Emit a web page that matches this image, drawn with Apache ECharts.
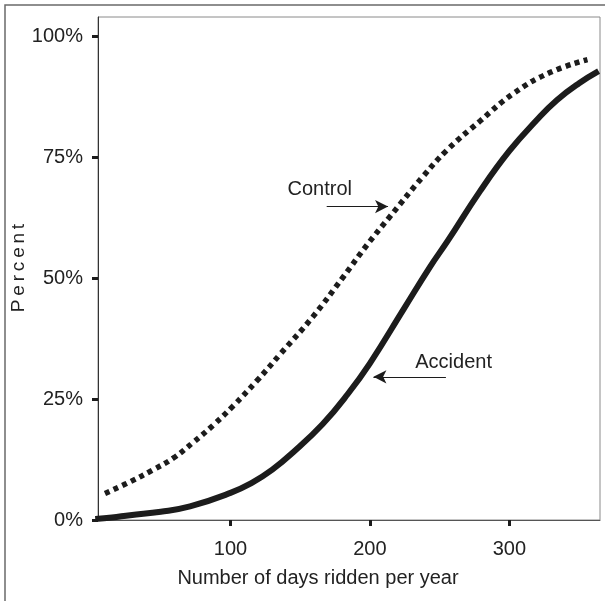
<!DOCTYPE html>
<html>
<head>
<meta charset="utf-8">
<script src="https://cdn.jsdelivr.net/npm/echarts@6/dist/echarts.min.js"></script>
<style>
html,body{margin:0;padding:0;background:#fff;}
#chart{width:605px;height:601px;}
</style>
</head>
<body>
<div id="chart"></div>
<script>
// Cumulative percent by number of days ridden per year
const controlDays = [10, 28, 44, 59, 73, 88, 102, 119, 136, 159, 181, 198, 214, 238, 255, 279, 303, 329, 356];
const controlPct  = [5.5, 7.9, 10.3, 12.8, 16.0, 19.7, 23.6, 28.8, 34.4, 42.0, 50.3, 56.9, 62.6, 71.0, 76.4, 82.5, 88.2, 92.5, 95.2];
const accidentDays = [3, 15, 28, 50, 71, 100, 115, 130, 145, 166, 184, 200, 224, 243, 256, 279, 300, 320, 334, 350, 364];
const accidentPct  = [0.2, 0.5, 1.0, 1.7, 2.8, 5.6, 7.6, 10.4, 14.0, 19.8, 26.0, 32.4, 43.5, 52.3, 57.8, 68.0, 76.3, 82.8, 86.8, 90.3, 92.8];
const xTicks = [100, 200, 300];
const yTicks = [0, 25, 50, 75, 100];
const xLabelName = 'Number of days ridden per year';
const yLabelName = 'P\u2009e\u2009r\u2009c\u2009e\u2009n\u2009t';
const annotations = [
  {text: 'Control', textAt: [164, 68.4], from: [169, 64.8], to: [213, 64.8]},
  {text: 'Accident', textAt: [260, 32.6], from: [254.5, 29.6], to: [202.5, 29.6]}
];

const zip = (a, b) => a.map((v, i) => [v, b[i]]);
const font = 'Liberation Sans, Arial, sans-serif';
const ink = '#1c1c1c';
const fs = 20;

const chart = echarts.init(document.getElementById('chart'), null, {renderer: 'canvas'});
const arrowLine = (a) => ({
  silent: true, animation: false, symbol: ['none', 'arrow'], symbolSize: [10, 13],
  label: {show: false},
  lineStyle: {color: ink, width: 1.2, type: 'solid'},
  data: [[{coord: a.from}, {coord: a.to}]]
});
const textPoint = (a) => ({
  silent: true, symbol: 'rect', symbolSize: 0,
  label: {show: true, position: 'inside', formatter: '{b}', fontSize: fs, color: '#222', fontFamily: font},
  data: [{name: a.text, coord: a.textAt}]
});
const option = {
  animation: false,
  backgroundColor: '#fff',
  grid: {left: 98, top: 17, right: 5, bottom: 81, show: true, borderColor: '#8a8a8a', borderWidth: 1},
  xAxis: {
    type: 'value', min: 5, max: 365,
    axisLine: {show: true, lineStyle: {color: '#555', width: 1}},
    axisTick: {show: true, customValues: xTicks, length: 6, inside: false, lineStyle: {color: ink, width: 3}},
    axisLabel: {customValues: xTicks, margin: 19, fontSize: fs, color: '#222', fontFamily: font},
    splitLine: {show: false}
  },
  yAxis: {
    type: 'value', min: 0, max: 104,
    axisLine: {show: true, lineStyle: {color: '#333', width: 1}},
    axisTick: {show: true, customValues: yTicks, length: 6, lineStyle: {color: ink, width: 3}},
    axisLabel: {customValues: yTicks, margin: 15, fontSize: fs, color: '#222', fontFamily: font, formatter: v => v + '%'},
    splitLine: {show: false}
  },
  series: [
    {
      name: 'Control', type: 'line', data: zip(controlDays, controlPct), smooth: 0.45,
      showSymbol: false, symbol: 'none',
      lineStyle: {color: ink, width: 5.5, type: [5, 4.5], cap: 'butt'},
      markLine: arrowLine(annotations[0]),
      markPoint: textPoint(annotations[0])
    },
    {
      name: 'Accident', type: 'line', data: zip(accidentDays, accidentPct), smooth: 0.45,
      showSymbol: false, symbol: 'none',
      lineStyle: {color: ink, width: 6, type: 'solid'},
      markLine: arrowLine(annotations[1]),
      markPoint: textPoint(annotations[1])
    }
  ],
  graphic: [
    {type: 'rect', shape: {x: 5, y: 5, width: 640, height: 640}, style: {fill: 'none', stroke: '#6a6a6a', lineWidth: 1.5}, silent: true, z: -1},
    {type: 'text', x: 318, y: 578, style: {text: xLabelName, fill: '#222', font: fs + 'px ' + font, textAlign: 'center', textVerticalAlign: 'middle'}},
    {type: 'text', x: 19, y: 268, rotation: Math.PI / 2, style: {text: yLabelName, fill: '#222', font: '19px ' + font, textAlign: 'center', textVerticalAlign: 'middle'}}
  ]
};
chart.setOption(option);
</script>
</body>
</html>
